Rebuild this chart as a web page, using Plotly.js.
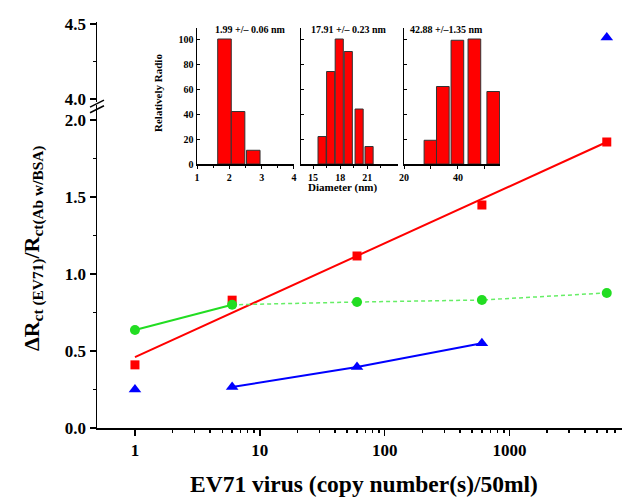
<!DOCTYPE html>
<html>
<head>
<meta charset="utf-8">
<script src="https://cdn.plot.ly/plotly-3.0.1.min.js"></script>
<style>html,body{margin:0;padding:0;background:#fff;}#chart{width:622px;height:499px;}</style>
</head>
<body>
<div id="chart"></div>
<script>
// ---- Main chart data ----
const copyNumbers = [1, 6, 60, 600, 6000];
const redValues = [0.41, 0.83, 1.117, 1.448, 1.857];
const redFitX = [1, 6000];
const redFitY = [0.46, 1.857];
const greenValues = [0.636, 0.80, 0.818, 0.831, 0.877];
const blueValuesLow = [0.25, 0.266, 0.396, 0.55];   // at 1, 6, 60, 600
const blueLowX = [1, 6, 60, 600];
const blueHighX = [6000];
const blueHighY = [4.41];
const xTickVals = [1, 10, 100, 1000];
const xTickText = ['1', '10', '100', '1000'];

// ---- Inset histogram data ----
const hist1Centers = [1.85, 2.27, 2.74];
const hist1Heights = [100, 42, 11];
const hist2Centers = [16.0, 16.95, 17.9, 18.9, 20.1, 21.2];
const hist2Heights = [22, 74, 100, 90, 44, 14];
const hist3Centers = [29.8, 34.4, 39.8, 46.1, 53.1];
const hist3Heights = [19, 62, 99, 100, 58];
const histTitles = ['1.99 +/– 0.06 nm', '17.91 +/– 0.23 nm', '42.88 +/–1.35 nm'];

const SERIF = '"Liberation Serif"';
const tf = (s) => ({family: SERIF, size: s, color: '#000', weight: 700});

const traces = [
  {x: redFitX, y: redFitY, mode: 'lines', line: {color: '#ff0000', width: 2}, xaxis: 'x', yaxis: 'y', hoverinfo: 'skip'},
  {x: copyNumbers, y: redValues, mode: 'markers', marker: {symbol: 'square', size: 9, color: '#ff0000'}, xaxis: 'x', yaxis: 'y'},
  {x: copyNumbers.slice(0, 2), y: greenValues.slice(0, 2), mode: 'lines', line: {color: '#22dd22', width: 2}, xaxis: 'x', yaxis: 'y'},
  {x: copyNumbers.slice(1), y: greenValues.slice(1), mode: 'lines', line: {color: '#66ee66', width: 1.5, dash: '4px,3px'}, xaxis: 'x', yaxis: 'y'},
  {x: copyNumbers, y: greenValues, mode: 'markers', marker: {symbol: 'circle', size: 10, color: '#22dd22'}, xaxis: 'x', yaxis: 'y'},
  {x: blueLowX.slice(1), y: blueValuesLow.slice(1), mode: 'lines', line: {color: '#0000ff', width: 2}, xaxis: 'x', yaxis: 'y'},
  {x: blueLowX, y: blueValuesLow, mode: 'markers', marker: {symbol: 'triangle-up', size: 11, color: '#0000ff'}, xaxis: 'x', yaxis: 'y'},
  {x: blueHighX, y: blueHighY, mode: 'markers', marker: {symbol: 'triangle-up', size: 11, color: '#0000ff'}, xaxis: 'x', yaxis: 'y2'},
  {type: 'bar', x: hist1Centers, y: hist1Heights, width: 0.42, marker: {color: '#ff0000', line: {color: '#333', width: 1}}, xaxis: 'x2', yaxis: 'y3'},
  {type: 'bar', x: hist2Centers, y: hist2Heights, width: 0.9, marker: {color: '#ff0000', line: {color: '#333', width: 1}}, xaxis: 'x3', yaxis: 'y4'},
  {type: 'bar', x: hist3Centers, y: hist3Heights, width: 4.7, marker: {color: '#ff0000', line: {color: '#333', width: 1}}, xaxis: 'x4', yaxis: 'y5'}
];

const axBase = {showgrid: false, zeroline: false, showline: true, linecolor: '#000', tickcolor: '#000'};
const insetY = {fixedrange: true, range: [0, 108.8], domain: [0.6502, 0.9852], tickvals: [0, 20, 40, 60, 80, 100],
  ticks: 'inside', ticklen: 3, linewidth: 1.5, tickfont: tf(10)};

const layout = {
  width: 622, height: 499,
  margin: {l: 97, r: 0, t: 22, b: 71},
  paper_bgcolor: '#fff', plot_bgcolor: 'rgba(0,0,0,0)',
  font: {family: SERIF},
  showlegend: false,
  bargap: 0,
  xaxis: Object.assign({}, axBase, {type: 'log', range: [-0.304, 3.9], domain: [0, 1], anchor: 'y',
    tickvals: xTickVals, ticktext: xTickText, ticks: 'outside', ticklen: 6, tickwidth: 1.5, linewidth: 1.5,
    minor: {ticks: 'outside', ticklen: 3, tickcolor: '#000', tickvals: [2,3,4,5,6,7,8,9,20,30,40,50,60,70,80,90,200,300,400,500,600,700,800,900,2000,3000,4000,5000,6000,7000]},
    tickfont: tf(17)}),
  yaxis: Object.assign({}, axBase, {range: [0, 2.1], domain: [0, 0.7966], anchor: 'x', dtick: 0.5, tick0: 0, tickformat: '.1f',
    ticks: 'outside', ticklen: 6, tickwidth: 1.5, linewidth: 1.5,
    minor: {ticks: 'outside', ticklen: 3, dtick: 0.25, tickcolor: '#000'}, tickfont: tf(17)}),
  yaxis2: Object.assign({}, axBase, {range: [3.98, 4.513], domain: [0.803, 1], anchor: 'x', tickvals: [4.0, 4.5], ticktext: ['4.0', '4.5'],
    ticks: 'outside', ticklen: 6, tickwidth: 1.5, linewidth: 1.5,
    minor: {ticks: 'outside', ticklen: 3, tickvals: [4.25], tickcolor: '#000'}, tickfont: tf(17)}),
  xaxis2: Object.assign({}, axBase, {range: [1, 4], domain: [0.1905, 0.3752], anchor: 'y3', tickvals: [1, 2, 3, 4],
    ticks: 'outside', ticklen: 3, linewidth: 1.5, minor: {ticks: 'outside', ticklen: 2, tickvals: [1.5, 2.5, 3.5], tickcolor: '#000'}, tickfont: tf(10)}),
  xaxis3: Object.assign({}, axBase, {range: [13.67, 24.4], domain: [0.3886, 0.5733], anchor: 'y4', tickvals: [15, 18, 21],
    ticks: 'outside', ticklen: 3, linewidth: 1.5, minor: {ticks: 'outside', ticklen: 2, tickvals: [16.5, 19.5, 22.5], tickcolor: '#000'}, tickfont: tf(10)}),
  xaxis4: Object.assign({}, axBase, {range: [20, 55.6], domain: [0.5848, 0.7676], anchor: 'y5', tickvals: [20, 40],
    ticks: 'outside', ticklen: 3, linewidth: 1.5, minor: {ticks: 'outside', ticklen: 3, tickvals: [30, 50], tickcolor: '#000'}, tickfont: tf(10)}),
  yaxis3: Object.assign({}, axBase, insetY, {anchor: 'x2'}),
  yaxis4: Object.assign({}, axBase, insetY, {anchor: 'x3', showticklabels: false}),
  yaxis5: Object.assign({}, axBase, insetY, {anchor: 'x4', showticklabels: false}),
  shapes: [
    {type: 'rect', xref: 'paper', yref: 'paper', x0: -0.02, x1: 0.02, y0: 0.797, y1: 0.803, fillcolor: '#fff', line: {width: 0}, layer: 'above'},
    {type: 'line', xref: 'paper', yref: 'paper', x0: -0.0133, x1: 0.0133, y0: 0.7902, y1: 0.8075, line: {color: '#000', width: 1.5}, layer: 'above'},
    {type: 'line', xref: 'paper', yref: 'paper', x0: -0.0133, x1: 0.0133, y0: 0.7765, y1: 0.7938, line: {color: '#000', width: 1.5}, layer: 'above'}
  ],
  annotations: [
    {text: 'ΔR<sub>ct (EV71)</sub>/R<sub>ct(Ab w/BSA)</sub>', xref: 'paper', yref: 'paper', x: -0.122, y: 0.443, textangle: -90,
      showarrow: false, font: tf(22), xanchor: 'center', yanchor: 'middle'},
    {text: 'EV71 virus (copy number(s)/50ml)', xref: 'paper', yref: 'paper', x: 0.5086, y: -0.138,
      showarrow: false, font: tf(23.5), xanchor: 'center', yanchor: 'middle'},
    {text: 'Relatively Radio', xref: 'paper', yref: 'paper', x: (158 - 97) / 525, y: (428 - 93) / 406, textangle: -90,
      showarrow: false, font: tf(11), xanchor: 'center', yanchor: 'middle'},
    {text: 'Diameter (nm)', xref: 'paper', yref: 'paper', x: (342 - 97) / 525, y: (428 - 187) / 406,
      showarrow: false, font: tf(11), xanchor: 'center', yanchor: 'middle'},
    {text: histTitles[0], xref: 'paper', yref: 'paper', x: (250 - 97) / 525, y: (428 - 29) / 406, showarrow: false, font: tf(10), xanchor: 'center', yanchor: 'middle'},
    {text: histTitles[1], xref: 'paper', yref: 'paper', x: (349 - 97) / 525, y: (428 - 29) / 406, showarrow: false, font: tf(10), xanchor: 'center', yanchor: 'middle'},
    {text: histTitles[2], xref: 'paper', yref: 'paper', x: (446 - 97) / 525, y: (428 - 29) / 406, showarrow: false, font: tf(10), xanchor: 'center', yanchor: 'middle'}
  ]
};

Plotly.newPlot('chart', traces, layout, {displayModeBar: false, staticPlot: true});
</script>
</body>
</html>
